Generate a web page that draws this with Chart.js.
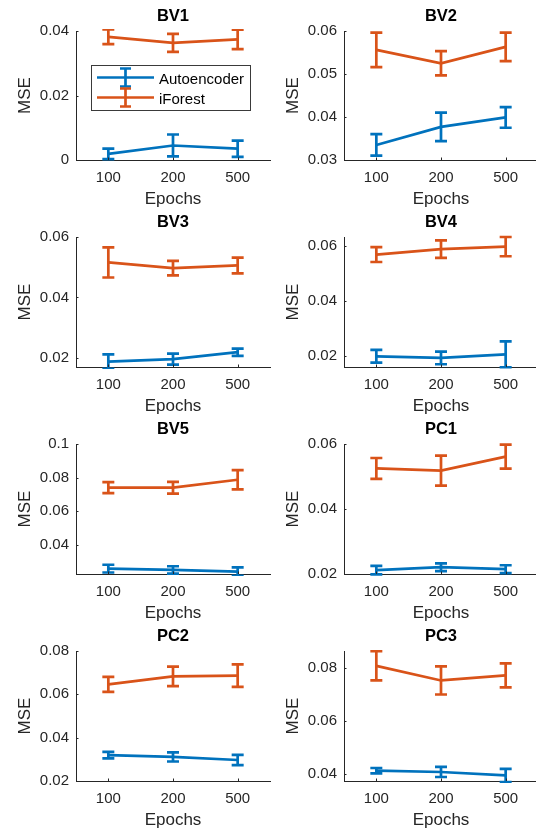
<!DOCTYPE html>
<html><head><meta charset="utf-8">
<script src="https://cdn.jsdelivr.net/npm/chart.js@4"></script>
<style>
html,body{margin:0;padding:0;background:#fff;}
#wrap{position:relative;width:536px;height:831px;overflow:hidden;background:#fff;}
#wrap canvas{position:absolute;}
</style></head><body><div id="wrap"></div>
<script>
// ---- data ----
const epochs = ['100', '200', '500'];
const seriesNames = ['Autoencoder', 'iForest'];

const bv1Ae = [0.0019, 0.0045, 0.0035];  const bv1AeErr = [0.0016, 0.0034, 0.0025];
const bv1If = [0.0382, 0.0363, 0.0374];  const bv1IfErr = [0.0023, 0.0028, 0.0030];
const bv1Range = [0, 0.04];              const bv1Ticks = [0, 0.02, 0.04];

const bv2Ae = [0.0335, 0.0377, 0.0399];  const bv2AeErr = [0.0025, 0.0033, 0.0024];
const bv2If = [0.0556, 0.0525, 0.0563];  const bv2IfErr = [0.0040, 0.0028, 0.0033];
const bv2Range = [0.03, 0.06];           const bv2Ticks = [0.03, 0.04, 0.05, 0.06];

const bv3Ae = [0.0188, 0.0196, 0.0219];  const bv3AeErr = [0.0024, 0.0018, 0.0012];
const bv3If = [0.0516, 0.0497, 0.0506];  const bv3IfErr = [0.0050, 0.0024, 0.0026];
const bv3Range = [0.017, 0.06];          const bv3Ticks = [0.02, 0.04, 0.06];

const bv4Ae = [0.0200, 0.0194, 0.0207];  const bv4AeErr = [0.0023, 0.0023, 0.0047];
const bv4If = [0.0570, 0.0590, 0.0599];  const bv4IfErr = [0.0027, 0.0032, 0.0035];
const bv4Range = [0.0161, 0.0634];       const bv4Ticks = [0.02, 0.04, 0.06];

const bv5Ae = [0.0258, 0.0250, 0.0240];  const bv5AeErr = [0.0023, 0.0022, 0.0025];
const bv5If = [0.0740, 0.0740, 0.0787];  const bv5IfErr = [0.0033, 0.0035, 0.0057];
const bv5Range = [0.0226, 0.1];          const bv5Ticks = [0.04, 0.06, 0.08, 0.1];

const pc1Ae = [0.0212, 0.0221, 0.0215];  const pc1AeErr = [0.0013, 0.0012, 0.0012];
const pc1If = [0.0525, 0.0518, 0.0561];  const pc1IfErr = [0.0032, 0.0046, 0.0037];
const pc1Range = [0.02, 0.06];           const pc1Ticks = [0.02, 0.04, 0.06];

const pc2Ae = [0.0319, 0.0311, 0.0297];  const pc2AeErr = [0.0015, 0.0021, 0.0024];
const pc2If = [0.0646, 0.0683, 0.0686];  const pc2IfErr = [0.0035, 0.0045, 0.0052];
const pc2Range = [0.02, 0.08];           const pc2Ticks = [0.02, 0.04, 0.06, 0.08];

const pc3Ae = [0.0412, 0.0407, 0.0394];  const pc3AeErr = [0.0010, 0.0019, 0.0025];
const pc3If = [0.0807, 0.0752, 0.0771];  const pc3IfErr = [0.0055, 0.0053, 0.0045];
const pc3Range = [0.0373, 0.0863];       const pc3Ticks = [0.04, 0.06, 0.08];

const panels = [
  {title: 'BV1', ae: bv1Ae, aeErr: bv1AeErr, fr: bv1If, frErr: bv1IfErr, range: bv1Range, ticks: bv1Ticks, legend: true},
  {title: 'BV2', ae: bv2Ae, aeErr: bv2AeErr, fr: bv2If, frErr: bv2IfErr, range: bv2Range, ticks: bv2Ticks},
  {title: 'BV3', ae: bv3Ae, aeErr: bv3AeErr, fr: bv3If, frErr: bv3IfErr, range: bv3Range, ticks: bv3Ticks},
  {title: 'BV4', ae: bv4Ae, aeErr: bv4AeErr, fr: bv4If, frErr: bv4IfErr, range: bv4Range, ticks: bv4Ticks},
  {title: 'BV5', ae: bv5Ae, aeErr: bv5AeErr, fr: bv5If, frErr: bv5IfErr, range: bv5Range, ticks: bv5Ticks},
  {title: 'PC1', ae: pc1Ae, aeErr: pc1AeErr, fr: pc1If, frErr: pc1IfErr, range: pc1Range, ticks: pc1Ticks},
  {title: 'PC2', ae: pc2Ae, aeErr: pc2AeErr, fr: pc2If, frErr: pc2IfErr, range: pc2Range, ticks: pc2Ticks},
  {title: 'PC3', ae: pc3Ae, aeErr: pc3AeErr, fr: pc3If, frErr: pc3IfErr, range: pc3Range, ticks: pc3Ticks}
];

// ---- style / layout ----
const FONT = "'Liberation Sans', Arial, Helvetica, sans-serif";
const BLUE = '#0072BD', ORANGE = '#D95319', AXIS = '#262626';
const LW = 2.7, CAP = 6;
const colX = [0, 268];
const rowY = [0, 207, 414, 621];
const plotTop = [31, 30, 30, 30];
const plotBottom = 160;
const CW = 272, CH = 213;
const LABEL_SIZE = 17, TICK_SIZE = 15, TITLE_SIZE = 16.5;

function drawBar(ctx, px, y1, y2, cap) {
  ctx.beginPath();
  ctx.moveTo(px, y1); ctx.lineTo(px, y2);
  ctx.moveTo(px - cap, y1); ctx.lineTo(px + cap, y1);
  ctx.moveTo(px - cap, y2); ctx.lineTo(px + cap, y2);
  ctx.stroke();
}

const errorBars = {
  id: 'errorBars',
  afterDatasetsDraw(chart) {
    const {ctx, chartArea: a, scales: {x, y}} = chart;
    ctx.save();
    ctx.beginPath();
    ctx.rect(a.left, a.top - 2, a.right - a.left + 4, a.bottom - a.top + 4);
    ctx.clip();
    chart.data.datasets.forEach(ds => {
      ctx.strokeStyle = ds.borderColor;
      ctx.lineWidth = LW;
      ctx.lineCap = 'butt';
      ds.data.forEach((v, j) => {
        const e = ds.errors[j];
        const px = x.getPixelForValue(j);
        drawBar(ctx, px, y.getPixelForValue(v + e), y.getPixelForValue(v - e), CAP);
      });
    });
    ctx.restore();
  },
  afterDraw(chart) {
    const {ctx, chartArea: a, scales: {x, y}} = chart;
    ctx.save();
    ctx.strokeStyle = AXIS;
    ctx.lineWidth = 1;
    ctx.beginPath();
    y.ticks.forEach(t => {
      const py = Math.round(y.getPixelForValue(t.value)) + 0.5;
      ctx.moveTo(a.left, py); ctx.lineTo(a.left + 2.5, py);
    });
    x.ticks.forEach((t, i) => {
      const px = Math.round(x.getPixelForValue(i)) + 0.5;
      ctx.moveTo(px, a.bottom); ctx.lineTo(px, a.bottom - 2.5);
    });
    ctx.stroke();
    ctx.restore();

    if (chart.options.plugins.errLegend && chart.options.plugins.errLegend.show) {
      const bx = 91.5, by = 65.5, bw = 159, bh = 45;
      ctx.save();
      ctx.fillStyle = '#fff';
      ctx.fillRect(bx, by, bw, bh);
      ctx.strokeStyle = '#3a3a3a';
      ctx.lineWidth = 1;
      ctx.strokeRect(bx, by, bw, bh);
      const rows = [
        {name: seriesNames[0], color: BLUE, y: 77.5},
        {name: seriesNames[1], color: ORANGE, y: 97.5}
      ];
      rows.forEach(r => {
        ctx.strokeStyle = r.color;
        ctx.lineWidth = LW;
        ctx.beginPath();
        ctx.moveTo(97, r.y); ctx.lineTo(154, r.y);
        ctx.stroke();
        drawBar(ctx, 125.5, r.y - 9, r.y + 9, 5.5);
        ctx.fillStyle = '#000';
        ctx.font = TICK_SIZE + 'px ' + FONT;
        ctx.textBaseline = 'middle';
        ctx.textAlign = 'left';
        ctx.fillText(r.name, 159, r.y + 2.5);
      });
      ctx.restore();
    }
  }
};

function fmt(v) {
  return String(parseFloat(Number(v).toFixed(4)));
}

const wrap = document.getElementById('wrap');
panels.forEach((p, i) => {
  const col = i % 2, row = Math.floor(i / 2);
  const cv = document.createElement('canvas');
  cv.width = CW; cv.height = CH;
  cv.style.left = colX[col] + 'px';
  cv.style.top = rowY[row] + 'px';
  cv.style.width = CW + 'px';
  cv.style.height = CH + 'px';
  wrap.appendChild(cv);
  const titleBoxH = TITLE_SIZE * 1.2 + 10;
  new Chart(cv, {
    type: 'line',
    data: {
      labels: epochs,
      datasets: [
        {label: seriesNames[0], data: p.ae, errors: p.aeErr, borderColor: BLUE, backgroundColor: BLUE,
         borderWidth: LW, pointRadius: 0, tension: 0, fill: false},
        {label: seriesNames[1], data: p.fr, errors: p.frErr, borderColor: ORANGE, backgroundColor: ORANGE,
         borderWidth: LW, pointRadius: 0, tension: 0, fill: false}
      ]
    },
    options: {
      responsive: false,
      animation: false,
      devicePixelRatio: 1,
      events: [],
      layout: {padding: {top: plotTop[row] - titleBoxH, left: 0, right: 2, bottom: 0}},
      plugins: {
        legend: {display: false},
        tooltip: {enabled: false},
        errLegend: {show: !!p.legend},
        title: {display: true, text: p.title, fullSize: false, color: '#000',
                font: {family: FONT, size: TITLE_SIZE, weight: 'bold'}, padding: {top: 5.5, bottom: 4.5}}
      },
      scales: {
        x: {
          type: 'category', offset: true,
          grid: {display: false, drawTicks: false},
          border: {display: true, color: AXIS, width: 1},
          ticks: {color: AXIS, font: {family: FONT, size: TICK_SIZE}, padding: 8.5, maxRotation: 0, autoSkip: false},
          title: {display: true, text: 'Epochs', color: AXIS, font: {family: FONT, size: LABEL_SIZE},
                  padding: {top: 0, bottom: 3.7}},
          afterFit: s => { s.height = CH - plotBottom; }
        },
        y: {
          type: 'linear', min: p.range[0], max: p.range[1],
          grid: {display: false, drawTicks: false},
          border: {display: true, color: AXIS, width: 1},
          ticks: {color: AXIS, font: {family: FONT, size: TICK_SIZE}, padding: 7, callback: v => fmt(v)},
          afterBuildTicks: s => { s.ticks = p.ticks.map(v => ({value: v})); },
          title: {display: true, text: 'MSE', color: AXIS, font: {family: FONT, size: LABEL_SIZE},
                  padding: {top: 15.4, bottom: 0}},
          afterFit: s => { s.width = 76; }
        }
      }
    },
    plugins: [errorBars]
  });
});
</script>
</body></html>
